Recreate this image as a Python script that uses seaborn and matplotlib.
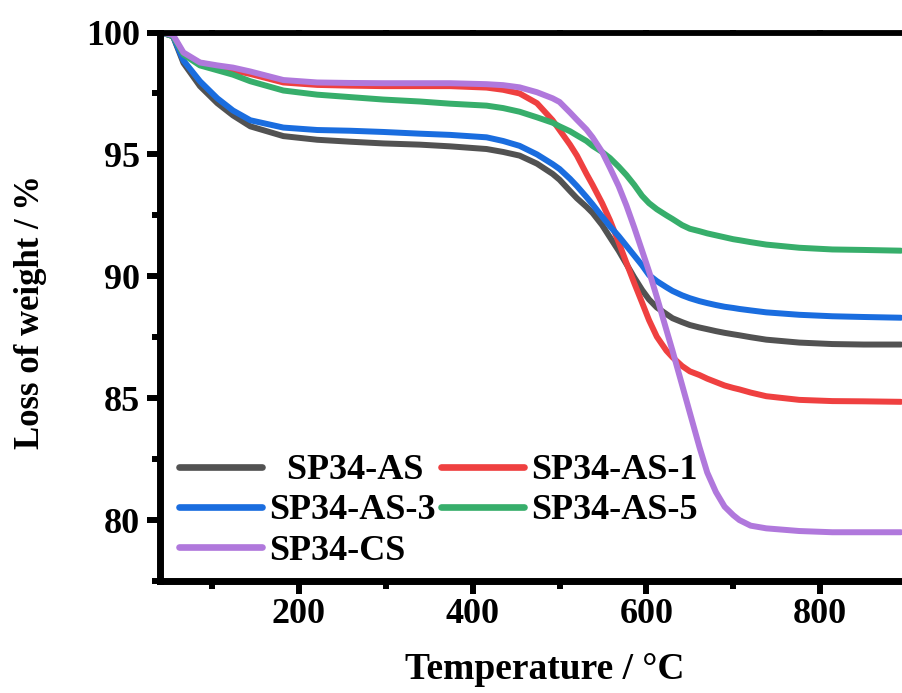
import matplotlib
matplotlib.use("Agg")
import matplotlib.pyplot as plt
import seaborn as sns
import pandas as pd
from matplotlib.ticker import MultipleLocator

temperature = [42, 55, 67, 86, 106, 124, 144, 182, 221, 259, 297, 339, 374, 416, 435,
               454, 474, 492, 500, 512, 520, 531, 538, 549, 558, 568, 577, 586, 595,
               603, 612, 623, 630, 641, 650, 661, 670, 680, 690, 700, 707, 720, 738,
               776, 814, 850, 893]

sp34_as = [100, 99.85, 98.75, 97.8, 97.1, 96.6, 96.15, 95.75, 95.6, 95.52, 95.45, 95.4,
           95.33, 95.22, 95.1, 94.95, 94.62, 94.2, 93.96, 93.5, 93.2, 92.85, 92.6, 92.1,
           91.6, 91.05, 90.5, 89.95, 89.44, 89.05, 88.72, 88.45, 88.28, 88.12, 88.0, 87.9,
           87.83, 87.75, 87.68, 87.62, 87.58, 87.5, 87.4, 87.28, 87.22, 87.2, 87.2]
sp34_as_1 = [100, 99.85, 99.1, 98.75, 98.6, 98.45, 98.3, 97.95, 97.85, 97.82, 97.8, 97.8,
             97.8, 97.74, 97.65, 97.5, 97.1, 96.4, 96.0, 95.4, 94.95, 94.2, 93.75, 93.0,
             92.3, 91.4, 90.55, 89.72, 88.92, 88.2, 87.52, 86.95, 86.68, 86.32, 86.1, 85.95,
             85.8, 85.66, 85.52, 85.42, 85.36, 85.23, 85.08, 84.93, 84.88, 84.87, 84.85]
sp34_as_3 = [100, 99.85, 98.85, 98.0, 97.3, 96.8, 96.4, 96.1, 96.0, 95.97, 95.92, 95.85,
             95.8, 95.7, 95.55, 95.35, 95.0, 94.6, 94.4, 94.0, 93.7, 93.25, 92.95, 92.45,
             92.05, 91.65, 91.25, 90.85, 90.45, 90.05, 89.8, 89.55, 89.4, 89.22, 89.1, 88.98,
             88.9, 88.82, 88.75, 88.7, 88.66, 88.6, 88.52, 88.42, 88.36, 88.33, 88.3]
sp34_as_5 = [100, 99.85, 99.1, 98.65, 98.45, 98.27, 98.0, 97.62, 97.45, 97.35, 97.25, 97.17,
             97.08, 97.0, 96.9, 96.75, 96.52, 96.3, 96.15, 95.95, 95.78, 95.55, 95.35, 95.1,
             94.85, 94.5, 94.15, 93.75, 93.3, 93.0, 92.75, 92.5, 92.35, 92.1, 91.95, 91.85,
             91.76, 91.68, 91.6, 91.52, 91.48, 91.4, 91.3, 91.17, 91.1, 91.08, 91.05]
sp34_cs = [100, 99.9, 99.18, 98.77, 98.65, 98.56, 98.4, 98.05, 97.95, 97.93, 97.92, 97.92,
           97.92, 97.88, 97.84, 97.75, 97.55, 97.3, 97.15, 96.72, 96.42, 96.02, 95.7, 95.1,
           94.45, 93.7, 92.9, 92.0, 91.05, 90.2, 89.15, 87.8, 86.95, 85.55, 84.4, 83.0,
           81.95, 81.15, 80.55, 80.2, 80.0, 79.77, 79.66, 79.55, 79.5, 79.5, 79.5]

series_names = ["SP34-AS", "SP34-AS-1", "SP34-AS-3", "SP34-AS-5", "SP34-CS"]
series_values = [sp34_as, sp34_as_1, sp34_as_3, sp34_as_5, sp34_cs]
colors = ["#525252", "#ef4040", "#1a6ddf", "#37ae6b", "#b078dc"]

x_ticks = [200, 400, 600, 800]
y_ticks = [80, 85, 90, 95, 100]

rows = []
for name, vals in zip(series_names, series_values):
    for t, v in zip(temperature, vals):
        rows.append({"Temperature": t, "Weight": v, "Sample": name})
df = pd.DataFrame(rows)

sns.set_style("ticks")
plt.rcParams["font.family"] = ["Liberation Serif", "DejaVu Serif"]
plt.rcParams["font.weight"] = "bold"
for k in ["text.color", "axes.labelcolor", "xtick.color", "ytick.color", "axes.edgecolor"]:
    plt.rcParams[k] = "black"

fig = plt.figure(figsize=(9.02, 6.93), dpi=100)
ax = fig.add_axes([160 / 902, 1 - 581 / 693, (907 - 160) / 902, (581 - 32.5) / 693])

sns.lineplot(data=df, x="Temperature", y="Weight", hue="Sample",
             hue_order=series_names, palette=dict(zip(series_names, colors)),
             linewidth=4.3, errorbar=None, ax=ax, legend=True)
for ln in ax.get_lines():
    ln.set_solid_joinstyle("round")

ax.set_xlim(40, 900)
ax.set_ylim(77.5, 100)
ax.set_xticks(x_ticks)
ax.set_yticks(y_ticks)
ax.xaxis.set_minor_locator(MultipleLocator(100))
ax.yaxis.set_minor_locator(MultipleLocator(2.5))

for s in ["left", "bottom"]:
    ax.spines[s].set_linewidth(5.0)
ax.spines["top"].set_linewidth(4.2)
ax.spines["right"].set_visible(False)

ax.tick_params(axis="both", which="major", direction="out", length=9.5, width=4.3,
               labelsize=26, color="black", labelcolor="black")
ax.tick_params(axis="both", which="minor", direction="out", length=6, width=4.3,
               color="black")
ax.tick_params(axis="x", which="major", pad=3)
ax.tick_params(axis="y", which="major", pad=5)
ax.tick_params(axis="x", which="both", top=True, labeltop=False)
for t in ax.xaxis.get_ticklines(minor=False)[1::2] + ax.xaxis.get_ticklines(minor=True)[1::2]:
    t.set_markersize(2)
for lab in ax.get_xticklabels() + ax.get_yticklabels():
    lab.set_fontweight("bold")

ax.set_xlabel("Temperature / \u00b0C", fontsize=27, fontweight="bold", color="black")
ax.set_ylabel("Loss of weight / %", fontsize=25, fontweight="bold", color="black")
ax.xaxis.set_label_coords((545 - 160) / (907 - 160), -0.13)
ax.yaxis.set_label_coords(-0.151, 0.49)

handles, labels = ax.get_legend_handles_labels()
hmap = dict(zip(labels, handles))
order = ["SP34-AS", "SP34-AS-3", "SP34-CS", "SP34-AS-1", "SP34-AS-5"]
disp = {"SP34-AS": "  SP34-AS"}
if ax.get_legend() is not None:
    ax.get_legend().remove()
leg = ax.legend([hmap[o] for o in order], [disp.get(o, o) for o in order],
                ncol=2, loc="lower left", bbox_to_anchor=(0.025, 0.0245),
                frameon=False, fontsize=26, handlelength=2.3, handletextpad=0.2,
                columnspacing=0.15, labelspacing=0.19, borderpad=0, borderaxespad=0)
for h in leg.get_lines():
    h.set_linewidth(4.8)
    h.set_solid_capstyle("round")
for txt in leg.get_texts():
    txt.set_fontweight("bold")
    txt.set_color("black")

fig.savefig("out.png", dpi=100)
